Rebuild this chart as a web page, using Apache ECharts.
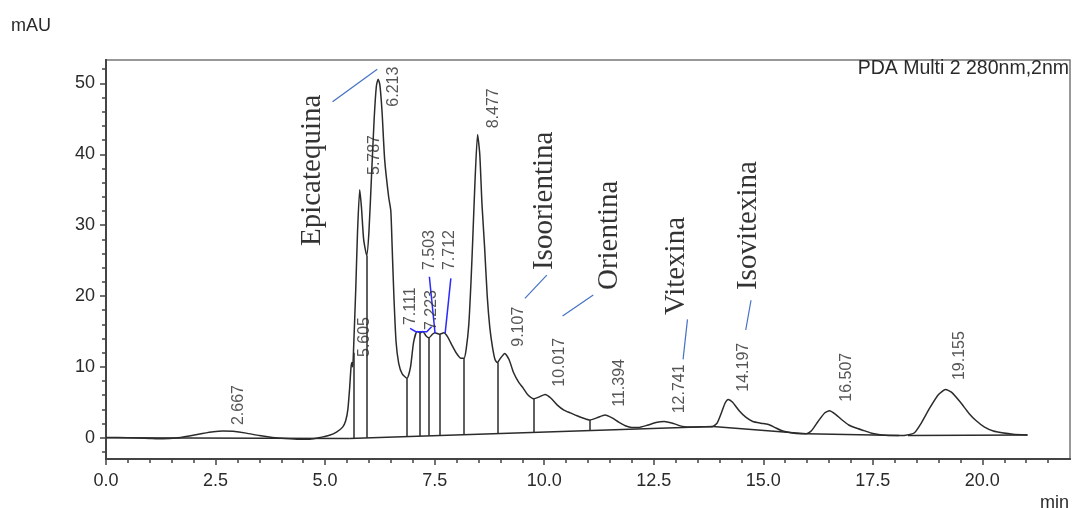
<!DOCTYPE html>
<html>
<head>
<meta charset="utf-8">
<script src="https://cdn.jsdelivr.net/npm/echarts@6/dist/echarts.min.js"></script>
<style>
  html, body { margin: 0; padding: 0; background: #fff; }
  .chromChart { width: 1073px; height: 508px; }
</style>
</head>
<body>
<div class="chromChart"></div>
<script>
// chromatogram trace, [min, mAU]
const trace = [
  [0, 0.05], [0.5, 0.0], [1.0, -0.1], [1.3, -0.15], [1.6, -0.05], [1.9, 0.25], [2.2, 0.6],
  [2.45, 0.85], [2.67, 0.95], [2.9, 0.9], [3.2, 0.65], [3.5, 0.3], [3.8, 0.05], [4.1, -0.1],
  [4.4, -0.2], [4.65, -0.2], [4.9, 0.05], [5.1, 0.35], [5.26, 0.8], [5.4, 1.5], [5.47, 2.4],
  [5.52, 4.0], [5.56, 7.0], [5.59, 9.8], [5.61, 10.6], [5.63, 10.0], [5.65, 12.5], [5.7, 21],
  [5.74, 29], [5.79, 35.0], [5.83, 32.5], [5.88, 28], [5.95, 25.7], [6.0, 29], [6.06, 37],
  [6.12, 45], [6.17, 49.6], [6.21, 50.6], [6.25, 49.8], [6.3, 46], [6.36, 39.2], [6.45, 34],
  [6.5, 32], [6.53, 27], [6.57, 20], [6.62, 13.5], [6.68, 10.5], [6.76, 9.0], [6.87, 8.4],
  [6.95, 10], [7.02, 13.5], [7.1, 15.0], [7.17, 14.8], [7.23, 15.0], [7.3, 14.4], [7.37, 14.1],
  [7.45, 14.6], [7.51, 14.8], [7.61, 14.6], [7.71, 14.8], [7.8, 14.2], [7.9, 13.0], [8.0, 11.9],
  [8.1, 11.2], [8.17, 11.2], [8.22, 12.5], [8.28, 16], [8.33, 22], [8.37, 28], [8.42, 36],
  [8.48, 42.8], [8.53, 40], [8.58, 33], [8.64, 26.9], [8.7, 20], [8.76, 15.5], [8.82, 12.8],
  [8.88, 11.0], [8.93, 10.6], [9.0, 11.2], [9.1, 11.9], [9.2, 11.0], [9.3, 9.2], [9.42, 7.8],
  [9.52, 7.0], [9.62, 6.1], [9.76, 5.5], [9.9, 5.8], [10.02, 6.1], [10.15, 5.6], [10.3, 4.6],
  [10.45, 3.9], [10.6, 3.5], [10.75, 3.1], [10.9, 2.75], [11.04, 2.5], [11.2, 2.8], [11.39, 3.2],
  [11.55, 2.8], [11.7, 2.2], [11.85, 1.7], [12.0, 1.45], [12.15, 1.45], [12.35, 1.75],
  [12.55, 2.15], [12.74, 2.3], [12.95, 2.0], [13.15, 1.6], [13.4, 1.5], [13.65, 1.55],
  [13.85, 1.6], [13.95, 2.1], [14.05, 3.6], [14.13, 4.9], [14.2, 5.4], [14.3, 5.0], [14.45, 3.8],
  [14.6, 2.9], [14.76, 2.3], [14.95, 2.05], [15.1, 1.9], [15.25, 1.5], [15.4, 1.05], [15.55, 0.8],
  [15.75, 0.6], [15.98, 0.55], [16.1, 1.0], [16.25, 2.3], [16.4, 3.5], [16.51, 3.8], [16.65, 3.3],
  [16.8, 2.5], [16.95, 1.8], [17.1, 1.4], [17.3, 1.0], [17.5, 0.6], [17.7, 0.4], [18.0, 0.3],
  [18.25, 0.35], [18.45, 0.7], [18.6, 2.0], [18.8, 4.2], [19.0, 6.1], [19.16, 6.8], [19.3, 6.4],
  [19.5, 5.0], [19.7, 3.4], [19.86, 2.4], [20.05, 1.5], [20.25, 0.95], [20.45, 0.7], [20.7, 0.5],
  [21.03, 0.4]
];

// integration baselines (polyline pieces)
const baselines = [
  [[0, 0], [5.55, -0.1]],
  [[5.55, -0.1], [13.85, 1.6]],
  [[13.85, 1.6], [15.98, 0.55]],
  [[15.98, 0.55], [18.1, 0.3]],
  [[18.3, 0.3], [21.03, 0.4]]
];

// peak drop lines: [time, baseline, signal]
const dropLines = [
  [5.66, -0.08, 12], [5.95, -0.02, 25.7], [6.87, 0.17, 8.4], [7.17, 0.23, 14.8],
  [7.37, 0.27, 14.1], [7.61, 0.32, 14.6], [8.17, 0.44, 11.2], [8.93, 0.59, 10.6],
  [9.77, 0.77, 5.5], [11.05, 1.03, 2.5]
];

// retention time labels and where they sit
const peakNames = ['2.667', '5.605', '5.787', '6.213', '7.111', '7.223', '7.503', '7.712',
  '8.477', '9.107', '10.017', '11.394', '12.741', '14.197', '16.507', '19.155'];
const peakLabelAt = [
  [3.02, 1.79], [5.91, 11.39], [6.14, 37.07], [6.56, 46.71], [6.94, 15.9], [7.42, 15.2],
  [7.39, 23.66], [7.83, 23.66], [8.84, 43.66], [9.41, 12.84], [10.36, 7.2], [11.73, 4.37],
  [13.1, 3.44], [14.54, 6.49], [16.9, 5.08], [19.49, 8.14]
];

// compounds
const compoundNames = ['Epicatequina', 'Isoorientina', 'Orientina', 'Vitexina', 'Isovitexina'];
const compoundLabelAt = [[4.71, 27.05], [10.0, 23.66], [11.48, 20.84], [13.02, 17.31], [14.67, 20.84]];
const compoundLeaders = [
  [[5.17, 47.41], [6.19, 51.98]],
  [[9.56, 19.67], [10.06, 22.95]],
  [[10.42, 17.17], [11.12, 20.14]],
  [[13.17, 11.06], [13.27, 16.71]],
  [[14.6, 15.2], [14.72, 19.4]]
];

// blue peak marks around 7.1 - 7.7
const peakMarks = [
  [[6.94, 15.44], [7.07, 14.96], [7.32, 14.96], [7.43, 15.66]],
  [[7.38, 22.72], [7.51, 14.73]],
  [[7.87, 22.49], [7.74, 14.73]]
];

// axis ticks
const xMajor = [0, 2.5, 5, 7.5, 10, 12.5, 15, 17.5, 20];
const yMajor = [0, 10, 20, 30, 40, 50];
const xMinor = [];
for (let v = 0.5; v < 22; v += 0.5) if (v % 2.5 !== 0) xMinor.push(v);
const yMinor = [];
for (let v = -2; v < 53; v += 2) if (v % 10 !== 0) yMinor.push(v);

const chart = echarts.init(document.querySelector('.chromChart'));

const sans = 'Liberation Sans, Arial, sans-serif';
const serif = 'Liberation Serif, Times New Roman, serif';
const ink = '#2a2a2a';

function segs(list) {
  return list.map(c => ({ coords: c }));
}

const option = {
  animation: false,
  grid: {
    left: 106, right: 3, top: 60, bottom: 49,
    show: true, borderColor: '#777', borderWidth: 1.5,
    outerBoundsMode: 'none'
  },
  xAxis: [
    {
      type: 'value', min: 0, max: 22,
      axisLine: { show: true, onZero: false, lineStyle: { color: '#444', width: 2 } },
      axisTick: { show: true, length: 6, customValues: xMajor, lineStyle: { color: '#444', width: 1.5 } },
      axisLabel: {
        customValues: xMajor, margin: 13, fontSize: 18, color: ink, fontFamily: sans,
        formatter: v => v.toFixed(1)
      },
      splitLine: { show: false }
    },
    {
      type: 'value', min: 0, max: 22, position: 'bottom',
      axisLine: { show: true, onZero: false, lineStyle: { color: '#444', width: 2 } },
      axisTick: { show: true, length: 4, customValues: xMinor, lineStyle: { color: '#444', width: 1.5 } },
      axisLabel: { show: false },
      splitLine: { show: false }
    }
  ],
  yAxis: [
    {
      type: 'value', min: -3, max: 53.3,
      axisLine: { show: true, onZero: false, lineStyle: { color: '#444', width: 2 } },
      axisTick: { show: true, length: 6, customValues: yMajor, lineStyle: { color: '#444', width: 1.5 } },
      axisLabel: { customValues: yMajor, margin: 11, fontSize: 18, color: ink, fontFamily: sans },
      splitLine: { show: false }
    },
    {
      type: 'value', min: -3, max: 53.3, position: 'left',
      axisLine: { show: true, onZero: false, lineStyle: { color: '#444', width: 2 } },
      axisTick: { show: true, length: 4, customValues: yMinor, lineStyle: { color: '#444', width: 1.5 } },
      axisLabel: { show: false },
      splitLine: { show: false }
    }
  ],
  graphic: [
    { type: 'text', left: 11, top: 17, style: { text: 'mAU', font: '18px ' + sans, fill: ink } },
    { type: 'text', left: 1040, top: 494, style: { text: 'min', font: '18px ' + sans, fill: ink } },
    { type: 'text', right: 4, top: 59, style: { text: 'PDA Multi 2 280nm,2nm', font: '19.5px ' + sans, fill: ink } }
  ],
  series: [
    {
      name: 'trace', type: 'line', data: trace, showSymbol: false, smooth: 0.2,
      lineStyle: { color: '#2b2b2b', width: 1.5 }, silent: true, z: 5
    },
    {
      name: 'baseline', type: 'lines', coordinateSystem: 'cartesian2d', polyline: true,
      data: segs(baselines), lineStyle: { color: '#2b2b2b', width: 1.5, opacity: 1 }, silent: true
    },
    {
      name: 'drops', type: 'lines', coordinateSystem: 'cartesian2d',
      data: dropLines.map(d => ({ coords: [[d[0], d[1]], [d[0], d[2]]] })),
      lineStyle: { color: '#2b2b2b', width: 1.5, opacity: 1 }, silent: true
    },
    {
      name: 'leaders', type: 'lines', coordinateSystem: 'cartesian2d', polyline: true,
      data: segs(compoundLeaders), lineStyle: { color: '#4472c4', width: 1.2, opacity: 1 }, silent: true
    },
    {
      name: 'marks', type: 'lines', coordinateSystem: 'cartesian2d', polyline: true,
      data: segs(peakMarks), lineStyle: { color: '#2a2aff', width: 1.5, opacity: 1 }, silent: true, z: 6
    },
    {
      name: 'peakLabels', type: 'scatter', symbolSize: 0, silent: true, z: 7,
      data: peakLabelAt.map((p, i) => ({ name: peakNames[i], value: p })),
      label: {
        show: true, position: 'inside', formatter: '{b}', rotate: 90,
        align: 'left', verticalAlign: 'middle',
        fontSize: 16, fontFamily: sans, color: ink
      }
    },
    {
      name: 'compounds', type: 'scatter', symbolSize: 0, silent: true, z: 7,
      data: compoundLabelAt.map((p, i) => ({ name: compoundNames[i], value: p })),
      label: {
        show: true, position: 'inside', formatter: '{b}', rotate: 90,
        align: 'left', verticalAlign: 'middle',
        fontSize: 29, fontFamily: serif, color: '#000'
      }
    }
  ]
};

chart.setOption(option);
</script>
</body>
</html>
